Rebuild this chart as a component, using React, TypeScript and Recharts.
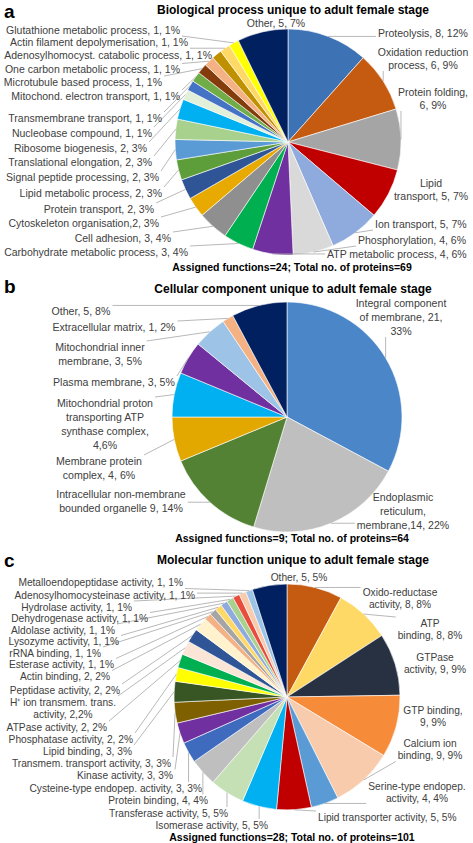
import React from 'react';
import { PieChart, Pie, Cell } from 'recharts';

// a: biological process (clockwise from 12 o'clock)
const bioValues = [8, 6, 6, 5, 5, 4, 4, 3, 3, 2, 2, 2, 2, 2, 2, 1, 1, 1, 1, 1, 1, 1, 1, 5];
const bioLabels = [
  ['Proteolysis, 8, 12%'],
  ['Oxidation reduction', 'process, 6, 9%'],
  ['Protein folding,', '6, 9%'],
  ['Lipid', 'transport, 5, 7%'],
  ['Ion transport, 5, 7%'],
  ['Phosphorylation, 4, 6%'],
  ['ATP metabolic process, 4, 6%'],
  ['Carbohydrate metabolic process, 3, 4%'],
  ['Cell adhesion, 3, 4%'],
  ['Cytoskeleton organisation,2, 3%'],
  ['Protein transport, 2, 3%'],
  ['Lipid metabolic process, 2, 3%'],
  ['Signal peptide processing, 2, 3%'],
  ['Translational elongation, 2, 3%'],
  ['Ribosome biogenesis, 2, 3%'],
  ['Nucleobase compound, 1, 1%'],
  ['Transmembrane transport, 1, 1%'],
  ['Mitochond. electron transport, 1, 1%'],
  ['Microtubule based process, 1, 1%'],
  ['One carbon metabolic process, 1, 1%'],
  ['Adenosylhomocyst. catabolic process, 1, 1%'],
  ['Actin filament depolymerisation, 1, 1%'],
  ['Glutathione metabolic process, 1, 1%'],
  ['Other, 5, 7%'],
];
const bioColors = [
  '#3D72B4', '#C55A11', '#A5A5A5', '#C00000', '#8FAADC', '#D9D9D9', '#7030A0', '#00B050',
  '#8F8F8F', '#E8AA00', '#2F5597', '#5E9E3A', '#5B9BD5', '#A9D18E', '#00B0F0', '#E2F0D9',
  '#4472C4', '#70AD47', '#843C0C', '#F4B183', '#BF9000', '#FFD966', '#FFFF00', '#002060',
];

// b: cellular component
const cellValues = [21, 14, 9, 4, 4, 3, 3, 1, 5];
const cellLabels = [
  ['Integral component', 'of membrane, 21,', '33%'],
  ['Endoplasmic', 'reticulum,', 'membrane,14, 22%'],
  ['Intracellular non-membrane', 'bounded organelle 9, 14%'],
  ['Membrane protein', 'complex, 4, 6%'],
  ['Mitochondrial proton', 'transporting ATP', 'synthase complex,', '4,6%'],
  ['Plasma membrane, 3, 5%'],
  ['Mitochondrial inner', 'membrane, 3, 5%'],
  ['Extracellular matrix, 1, 2%'],
  ['Other, 5, 8%'],
];
const cellColors = ['#4A86C8', '#BFBFBF', '#548235', '#E2A800', '#00B0F0', '#7030A0', '#9DC3E6', '#F4B183', '#002060'];

// c: molecular function
const molValues = [8, 8, 9, 9, 9, 4, 5, 5, 5, 4, 3, 3, 3, 3, 2, 2, 2, 2, 2, 1, 1, 1, 1, 1, 1, 1, 1, 5];
const molLabels = [
  ['Oxido-reductase', 'activity, 8, 8%'],
  ['ATP', 'binding, 8, 8%'],
  ['GTPase', 'activity,  9, 9%'],
  ['GTP binding,', '9, 9%'],
  ['Calcium ion', 'binding, 9, 9%'],
  ['Serine-type endopep.', 'activity, 4, 4%'],
  ['Lipid transporter activity, 5, 5%'],
  ['Isomerase activity, 5, 5%'],
  ['Transferase activity, 5, 5%'],
  ['Protein binding, 4, 4%'],
  ['Cysteine-type endopep. activity, 3, 3%'],
  ['Kinase activity, 3, 3%'],
  ['Transmem. transport activity, 3, 3%'],
  ['Lipid binding, 3, 3%'],
  ['Phosphatase activity, 2, 2%'],
  ['ATPase activity, 2, 2%'],
  ['H\u207A ion transmem. trans.', 'activity, 2,2%'],
  ['Peptidase activity, 2, 2%'],
  ['Actin binding, 2, 2%'],
  ['Esterase activity, 1, 1%'],
  ['rRNA binding, 1, 1%'],
  ['Lysozyme activity, 1, 1%'],
  ['Aldolase activity, 1, 1%'],
  ['Dehydrogenase activity, 1, 1%'],
  ['Hydrolase activity, 1, 1%'],
  ['Adenosylhomocysteinase activity, 1, 1%'],
  ['Metalloendopeptidase activity, 1, 1%'],
  ['Other, 5, 5%'],
];
const molColors = [
  '#C55A11', '#FFD966', '#283142', '#F68B3A', '#F8CBAD', '#5B9BD5', '#C00000', '#00B0F0',
  '#C5E0B4', '#BFBFBF', '#3E6BBE', '#7030A0', '#7F6000', '#375623', '#FFFF00', '#00B050',
  '#FBE5D6', '#2F5597', '#FFF2CC', '#F4B183', '#A5A5A5', '#FFD966', '#8FAADC', '#A9D18E',
  '#E84C3D', '#F8CBAD', '#9DC3E6', '#002060',
];

type Spot = { x: number; y: number; a: 'start' | 'middle' | 'end' };

// label placement (first line centre)
const bioSpots: Spot[] = [
  { x: 378, y: 33, a: 'start' }, { x: 423, y: 52, a: 'middle' }, { x: 433, y: 92, a: 'middle' },
  { x: 431, y: 183, a: 'middle' }, { x: 375, y: 224, a: 'start' }, { x: 358, y: 240, a: 'start' },
  { x: 327, y: 254, a: 'start' }, { x: 188, y: 252, a: 'end' }, { x: 171, y: 238, a: 'end' },
  { x: 159, y: 223, a: 'end' }, { x: 154, y: 209, a: 'end' }, { x: 162, y: 193, a: 'end' },
  { x: 159, y: 177, a: 'end' }, { x: 152, y: 162, a: 'end' }, { x: 147, y: 148, a: 'end' },
  { x: 152, y: 133, a: 'end' }, { x: 162, y: 118, a: 'end' }, { x: 180, y: 96, a: 'end' },
  { x: 162, y: 82, a: 'end' }, { x: 180, y: 69.5, a: 'end' }, { x: 212, y: 55, a: 'end' },
  { x: 188, y: 42.5, a: 'end' }, { x: 180, y: 30, a: 'end' }, { x: 276, y: 23, a: 'middle' },
];
const cellSpots: Spot[] = [
  { x: 401, y: 303, a: 'middle' }, { x: 403, y: 497, a: 'middle' }, { x: 121, y: 494, a: 'middle' },
  { x: 99, y: 461, a: 'middle' }, { x: 105, y: 403, a: 'middle' }, { x: 114, y: 382, a: 'middle' },
  { x: 100, y: 347, a: 'middle' }, { x: 114, y: 327, a: 'middle' }, { x: 81, y: 311, a: 'middle' },
];
const molSpots: Spot[] = [
  { x: 400, y: 592, a: 'middle' }, { x: 430, y: 623, a: 'middle' }, { x: 435, y: 657, a: 'middle' },
  { x: 433, y: 710, a: 'middle' }, { x: 430, y: 743, a: 'middle' }, { x: 417, y: 786, a: 'middle' },
  { x: 318, y: 817, a: 'start' }, { x: 268, y: 825, a: 'end' }, { x: 228, y: 813, a: 'end' },
  { x: 208, y: 800.5, a: 'end' }, { x: 202, y: 788, a: 'end' }, { x: 173, y: 775.5, a: 'end' },
  { x: 171, y: 763, a: 'end' }, { x: 132, y: 751, a: 'end' }, { x: 133, y: 739, a: 'end' },
  { x: 107, y: 727, a: 'end' }, { x: 63, y: 702, a: 'middle' }, { x: 120, y: 690, a: 'end' },
  { x: 110, y: 676.5, a: 'end' }, { x: 114, y: 664.5, a: 'end' }, { x: 101, y: 653, a: 'end' },
  { x: 119, y: 641.5, a: 'end' }, { x: 115, y: 630, a: 'end' }, { x: 148, y: 618.5, a: 'end' },
  { x: 132, y: 607, a: 'end' }, { x: 195, y: 595, a: 'end' }, { x: 183, y: 582.5, a: 'end' },
  { x: 299, y: 577, a: 'middle' },
];

const FF = '"Liberation Sans", Arial, sans-serif';
const RAD = Math.PI / 180;

const ctx = typeof document !== 'undefined' ? document.createElement('canvas').getContext('2d') : null;
const textWidth = (s: string, fs: number) => {
  if (!ctx) return s.length * fs * 0.5;
  ctx.font = `${fs}px ${FF}`;
  return ctx.measureText(s).width;
};

const toData = (values: number[], labels: string[][]) =>
  values.map((v, i) => ({ name: labels[i].join(' '), value: v }));

// label with a leader line from the slice edge to the nearest side of the text block
const makeLabel = (labels: string[][], spots: Spot[], lh: number, fs: number) => (p: any) => {
  const { cx, cy, midAngle, outerRadius, index } = p;
  const s = spots[index];
  const lines = labels[index];
  const ex = cx + outerRadius * Math.cos(-midAngle * RAD);
  const ey = cy + outerRadius * Math.sin(-midAngle * RAD);
  const w = Math.max(...lines.map((l) => textWidth(l, fs)));
  const x0 = s.a === 'start' ? s.x : s.a === 'end' ? s.x - w : s.x - w / 2;
  const x1 = x0 + w;
  const y0 = s.y - 6;
  const y1 = s.y + (lines.length - 1) * lh + 6;
  const nx = Math.min(Math.max(ex, x0 - 2), x1 + 2);
  const ny = Math.min(Math.max(ey, y0), y1);
  const d = Math.hypot(nx - ex, ny - ey);
  return (
    <g key={`lab-${index}`}>
      {d > 8 && <line x1={ex} y1={ey} x2={nx} y2={ny} stroke="#A6A6A6" strokeWidth={0.8} />}
      <text textAnchor={s.a} fontSize={fs} fontFamily={FF} fill="#404040">
        {lines.map((t, i) => (
          <tspan key={i} x={s.x} y={s.y + i * lh + fs * 0.35}>
            {t}
          </tspan>
        ))}
      </text>
    </g>
  );
};

const titles = [
  { t: 'Biological process unique to adult female stage', y: 14 },
  { t: 'Cellular component unique to adult female stage', y: 293 },
  { t: 'Molecular function unique to adult female stage', y: 564 },
];
const footers = [
  { t: 'Assigned functions=24; Total no. of proteins=69', y: 271 },
  { t: 'Assigned functions=9; Total no. of proteins=64', y: 542 },
  { t: 'Assigned functions=28; Total no. of proteins=101', y: 841 },
];
const letters = [
  { t: 'a', y: 18 },
  { t: 'b', y: 293 },
  { t: 'c', y: 567 },
];

export default function App() {
  return (
    <div style={{ position: 'absolute', left: 0, top: 0, width: 473, height: 843, background: '#fff' }}>
      <PieChart width={473} height={843} margin={{ top: 0, right: 0, bottom: 0, left: 0 }}>
        <Pie
          data={toData(bioValues, bioLabels)}
          dataKey="value"
          cx={288}
          cy={142}
          outerRadius={113}
          startAngle={90}
          endAngle={-270}
          stroke="#fff"
          strokeWidth={0.6}
          label={makeLabel(bioLabels, bioSpots, 13, 10.5)}
          labelLine={false}
          isAnimationActive={false}
        >
          {bioColors.map((c, i) => (
            <Cell key={i} fill={c} />
          ))}
        </Pie>
        <Pie
          data={toData(cellValues, cellLabels)}
          dataKey="value"
          cx={287}
          cy={417}
          outerRadius={115}
          startAngle={90}
          endAngle={-270}
          stroke="#fff"
          strokeWidth={0.6}
          label={makeLabel(cellLabels, cellSpots, 14, 10.6)}
          labelLine={false}
          isAnimationActive={false}
        >
          {cellColors.map((c, i) => (
            <Cell key={i} fill={c} />
          ))}
        </Pie>
        <Pie
          data={toData(molValues, molLabels)}
          dataKey="value"
          cx={287}
          cy={697}
          outerRadius={113}
          startAngle={90}
          endAngle={-270}
          stroke="#fff"
          strokeWidth={0.6}
          label={makeLabel(molLabels, molSpots, 12.5, 10.2)}
          labelLine={false}
          isAnimationActive={false}
        >
          {molColors.map((c, i) => (
            <Cell key={i} fill={c} />
          ))}
        </Pie>
      </PieChart>
      <svg width={473} height={843} style={{ position: 'absolute', left: 0, top: 0, pointerEvents: 'none' }}>
        {titles.map((d) => (
          <text key={d.t} x={293} y={d.y} textAnchor="middle" fontSize={12} fontWeight="bold" fontFamily={FF} fill="#000">
            {d.t}
          </text>
        ))}
        {footers.map((d) => (
          <text key={d.t} x={292} y={d.y} textAnchor="middle" fontSize={10.5} fontWeight="bold" fontFamily={FF} fill="#000">
            {d.t}
          </text>
        ))}
        {letters.map((d) => (
          <text key={d.t} x={4} y={d.y} fontSize={19} fontWeight="bold" fontFamily={FF} fill="#000">
            {d.t}
          </text>
        ))}
      </svg>
    </div>
  );
}
